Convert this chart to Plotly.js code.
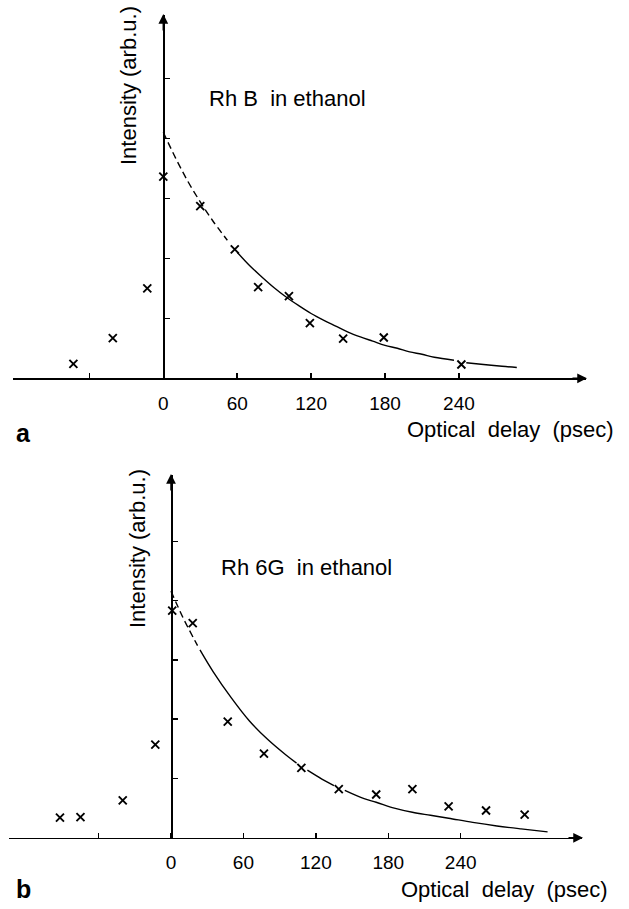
<!DOCTYPE html>
<html>
<head>
<meta charset="utf-8">
<script src="https://cdn.plot.ly/plotly-3.0.1.min.js"></script>
<style>html,body{margin:0;padding:0;background:#fff;}#chart{width:629px;height:909px;}</style>
</head>
<body>
<div id="chart"></div>
<script>
// ---- Panel a: Rh B in ethanol ----
var rhbDelay = [-73, -41, -13, 0, 30, 58, 77, 102, 119, 146, 179, 242];
var rhbIntensity = [0.24, 0.67, 1.50, 3.36, 2.87, 2.15, 1.52, 1.37, 0.92, 0.66, 0.68, 0.23];
var rhbFitDashX = [0, 10, 20, 30, 40, 52];
var rhbFitDashY = [4.10, 3.67, 3.28, 2.94, 2.63, 2.30];
var rhbFitX = [60, 70, 80, 90, 100, 110, 120, 130, 140, 150, 160, 170, 180, 190, 200, 210, 220, 236];
var rhbFitY = [2.10, 1.88, 1.69, 1.51, 1.35, 1.21, 1.08, 0.97, 0.87, 0.77, 0.69, 0.62, 0.55, 0.50, 0.44, 0.40, 0.35, 0.30];
var rhbFitTailX = [246, 260, 275, 287];
var rhbFitTailY = [0.26, 0.23, 0.20, 0.18];

// ---- Panel b: Rh 6G in ethanol ----
var rh6gDelay = [-92, -75, -40, -13, 1, 18, 47, 77, 108, 139, 170, 200, 230, 261, 293];
var rh6gIntensity = [0.34, 0.35, 0.63, 1.57, 3.83, 3.62, 1.96, 1.42, 1.18, 0.82, 0.73, 0.82, 0.53, 0.46, 0.39];
var rh6gFitDashX = [0, 5, 10, 15, 22];
var rh6gFitDashY = [4.16, 3.93, 3.71, 3.51, 3.24];
var rh6gFitX = [24, 35, 50, 65, 80, 95, 104];
var rh6gFitY = [3.17, 2.80, 2.36, 1.97, 1.66, 1.40, 1.26];
var rh6gFitMidX = [113, 125, 135];
var rh6gFitMidY = [1.14, 0.99, 0.88];
var rh6gFitTailX = [144, 160, 170, 185, 200, 215, 230, 250, 270, 290, 312];
var rh6gFitTailY = [0.80, 0.66, 0.60, 0.50, 0.43, 0.38, 0.33, 0.26, 0.20, 0.15, 0.10];

// ---- Axis labels ----
var xTickVals = [-60, 0, 60, 120, 180, 240];
var xTickText = ['', '0', '60', '120', '180', '240'];
var yTickVals = [1, 2, 3, 4, 5];
var xTitle = 'Optical\u00a0 delay\u00a0 (psec)';
var yTitle = 'Intensity (arb.u.)';
var titleA = 'Rh B\u00a0 in ethanol';
var titleB = 'Rh 6G\u00a0 in ethanol';

var W = 629, H = 909;
var FONT = 'Liberation Sans, Arial, sans-serif';
function px(x){return x / W;}
function py(y){return 1 - y / H;}

function markers(x, y, xa, ya){
  return {x:x, y:y, xaxis:xa, yaxis:ya, mode:'markers', type:'scatter', hoverinfo:'skip',
    marker:{symbol:'x-thin', size:8, color:'black', line:{width:1.9, color:'black'}}};
}
function line(x, y, xa, ya, dash){
  return {x:x, y:y, xaxis:xa, yaxis:ya, mode:'lines', type:'scatter', hoverinfo:'skip',
    line:{color:'black', width:1.4, dash:dash || 'solid', shape:'spline'}};
}

var data = [
  line(rhbFitDashX, rhbFitDashY, 'x', 'y', '7px,4px'),
  line(rhbFitX, rhbFitY, 'x', 'y'),
  line(rhbFitTailX, rhbFitTailY, 'x', 'y'),
  markers(rhbDelay, rhbIntensity, 'x', 'y'),
  line(rh6gFitDashX, rh6gFitDashY, 'x2', 'y2', '7px,4px'),
  line(rh6gFitX, rh6gFitY, 'x2', 'y2'),
  line(rh6gFitMidX, rh6gFitMidY, 'x2', 'y2'),
  line(rh6gFitTailX, rh6gFitTailY, 'x2', 'y2'),
  markers(rh6gDelay, rh6gIntensity, 'x2', 'y2')
];

function xAxis(domain, range, anchor){
  return {domain:domain, range:range, anchor:anchor, showline:true, linecolor:'black', linewidth:1.5,
    ticks:'inside', ticklen:5, tickwidth:1.5, tickcolor:'black', tickvals:xTickVals, ticktext:xTickText,
    tickfont:{family:FONT, size:19, color:'black'}, ticklabelstandoff:7,
    showgrid:false, zeroline:false, fixedrange:true};
}
function yAxis(domain, range, position){
  return {domain:domain, range:range, anchor:'free', position:position, showline:true, linecolor:'black', linewidth:1.5,
    ticks:'inside', ticklen:5, tickwidth:1.5, tickcolor:'black', tickvals:yTickVals, showticklabels:false,
    showgrid:false, zeroline:false, fixedrange:true};
}

function arrow(xp, yp, ax, ay){
  return {xref:'paper', yref:'paper', x:px(xp), y:py(yp), ax:ax, ay:ay, text:'', showarrow:true,
    arrowhead:2, arrowsize:1.3, arrowwidth:1.5, arrowcolor:'black', standoff:0};
}
function label(text, xp, yp, xanchor, size, extra){
  var a = {xref:'paper', yref:'paper', x:px(xp), y:py(yp), text:text, showarrow:false,
    xanchor:xanchor, yanchor:'middle', font:{family:FONT, size:size, color:'black'}};
  for (var k in extra) a[k] = extra[k];
  return a;
}

var layout = {
  width:W, height:H, margin:{l:0, r:0, t:0, b:0}, showlegend:false,
  paper_bgcolor:'white', plot_bgcolor:'white',
  xaxis: xAxis([px(13.3), px(585.7)], [(13.3-163.3)/1.2317, (585.7-163.3)/1.2317], 'y'),
  yaxis: yAxis([py(378.3), py(15)], [0, (378.3-15)/60], px(163.3)),
  xaxis2: xAxis([px(9.3), px(581.7)], [(9.3-171)/1.207, (581.7-171)/1.207], 'y2'),
  yaxis2: yAxis([py(837.8), py(475)], [0, (837.8-475)/59.3], px(171)),
  annotations: [
    arrow(587, 378.3, -16, 0),
    arrow(163.3, 14, 0, 18),
    arrow(583, 837.8, -16, 0),
    arrow(171, 474, 0, 18),
    label(titleA, 207, 99, 'left', 22),
    label(titleB, 219, 567, 'left', 22),
    label(yTitle, 129, 86, 'center', 22, {textangle:-90}),
    label(yTitle, 137, 549, 'center', 22, {textangle:-90}),
    label(xTitle, 616, 429, 'right', 22),
    label(xTitle, 610, 889, 'right', 22),
    label('<b>a</b>', 14, 433, 'left', 25),
    label('<b>b</b>', 14, 889, 'left', 25)
  ]
};

Plotly.newPlot('chart', data, layout, {staticPlot:true, displayModeBar:false});
</script>
</body>
</html>
